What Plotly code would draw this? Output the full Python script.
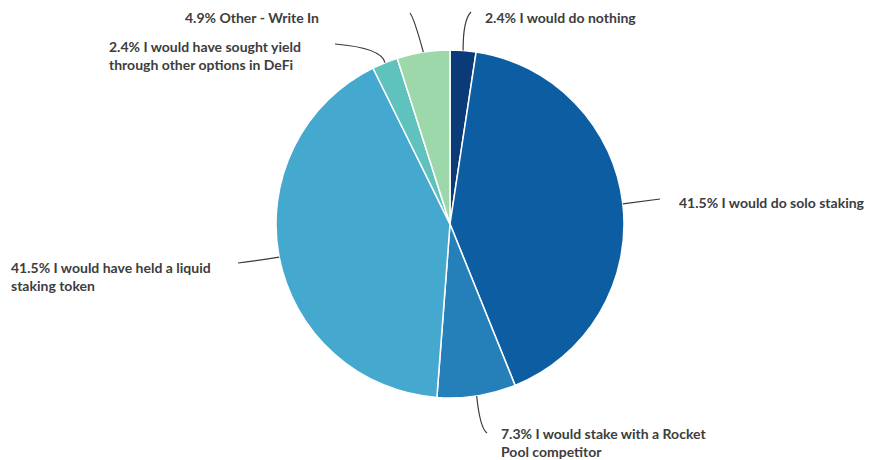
import math
import plotly.graph_objects as go

labels = [
    "I would do nothing",
    "I would do solo staking",
    "I would stake with a Rocket Pool competitor",
    "I would have held a liquid staking token",
    "I would have sought yield through other options in DeFi",
    "Other - Write In",
]
values = [2.4, 41.5, 7.3, 41.5, 2.4, 4.9]
label_texts = [
    "2.4% I would do nothing",
    "41.5% I would do solo staking",
    "7.3% I would stake with a Rocket<br>Pool competitor",
    "41.5% I would have held a liquid<br>staking token",
    "2.4% I would have sought yield<br>through other options in DeFi",
    "4.9% Other - Write In",
]
colors = ["#0b3a78", "#0d5da2", "#2580ba", "#45a9cf", "#5fc2bd", "#9dd8aa"]

W, H = 869, 460
CX, CY, R = 450, 224, 174


def px(x):
    return x / W


def py(y):
    return 1 - y / H


# label placement (pixel): text anchor, xanchor, and connector path bend/end points
label_layout = [
    dict(tx=483, ty=17, xa="left", bend=(463, 20), end=(471, 12)),
    dict(tx=677, ty=202, xa="left", bend=(645, 201), end=(660, 199)),
    dict(tx=499, ty=442, xa="left", bend=(480, 428), end=(487, 433)),
    dict(tx=9, ty=276, xa="left", bend=(255, 261), end=(238, 263)),
    dict(tx=107, ty=56, xa="left", bend=(382, 48), end=(335, 44)),
    dict(tx=321, ty=17, xa="right", bend=(414, 18), end=(410, 13)),
]

fig = go.Figure(
    go.Pie(
        labels=labels,
        values=values,
        sort=False,
        direction="clockwise",
        rotation=0,
        marker=dict(colors=colors, line=dict(color="white", width=1.5)),
        textinfo="none",
        hoverinfo="label+percent",
        domain=dict(x=[px(CX - R), px(CX + R)], y=[py(CY + R), py(CY - R)]),
        showlegend=False,
    )
)

total = sum(values)
cum = 0.0
shapes = []
annotations = []
for v, txt, lay in zip(values, label_texts, label_layout):
    mid = (cum + v / 2) / total * 2 * math.pi
    cum += v
    ex = CX + R * math.sin(mid)
    ey = CY - R * math.cos(mid)
    bx, by = lay["bend"]
    qx, qy = lay["end"]
    path = f"M {px(ex)},{py(ey)} Q {px(bx)},{py(by)} {px(qx)},{py(qy)}"
    shapes.append(
        dict(type="path", xref="paper", yref="paper", path=path,
             line=dict(color="#3a3a3a", width=1.2))
    )
    annotations.append(
        dict(x=px(lay["tx"]), y=py(lay["ty"]), xref="paper", yref="paper",
             xanchor=lay["xa"], yanchor="middle", align="left",
             text=f"<b>{txt}</b>", showarrow=False,
             font=dict(family="Lato, 'Open Sans', sans-serif", size=14, color="#3d3d3d"))
    )

fig.update_layout(
    width=W,
    height=H,
    margin=dict(l=0, r=0, t=0, b=0),
    paper_bgcolor="white",
    plot_bgcolor="white",
    shapes=shapes,
    annotations=annotations,
)

fig.write_html(
    "out.html",
    config={"displayModeBar": False},
    post_script="document.body.style.margin='0px';document.body.style.overflow='hidden';",
)
